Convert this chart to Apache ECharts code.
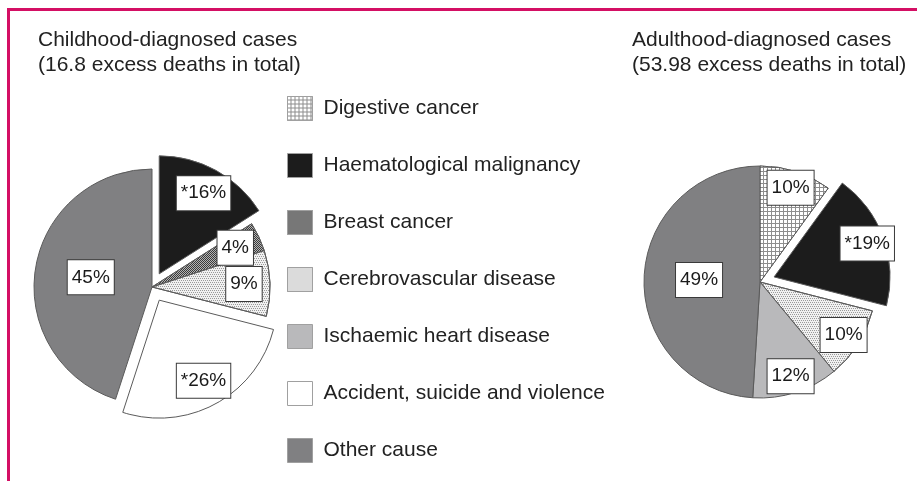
<!DOCTYPE html>
<html lang="en">
<head>
    <meta charset="UTF-8">
    <title>Excess deaths by cause</title>
    <script src="https://cdn.jsdelivr.net/npm/echarts@6/dist/echarts.min.js"></script>
    <style>
        body { margin: 0; background: #fff; }
        #frame { position: absolute; left: 7px; top: 8px; width: 910px; height: 473px;
                 border-left: 3px solid #d40f64; border-top: 3px solid #d40f64; }
        #main { position: absolute; left: 0; top: 0; width: 917px; height: 481px; }
    </style>
</head>
<body>
    <div id="frame"></div>
    <div id="main"></div>
    <script>
        // categories, in the order they run clockwise round both pies
        const categories = [
            'Digestive cancer',
            'Haematological malignancy',
            'Breast cancer',
            'Cerebrovascular disease',
            'Ischaemic heart disease',
            'Accident, suicide and violence',
            'Other cause'
        ]
        // percent of excess deaths (0 = not shown in that pie)
        const childValues = [0, 16, 4, 9, 0, 26, 45]
        const adultValues = [10, 19, 0, 10, 12, 0, 49]
        // significant causes: starred and pulled out
        const childStarred = [false, true, false, false, false, true, false]
        const adultStarred = [false, true, false, false, false, false, false]

        const childTitle = 'Childhood-diagnosed cases\n(16.8 excess deaths in total)'
        const adultTitle = 'Adulthood-diagnosed cases\n(53.98 excess deaths in total)'

        // fill of each cause
        const styles = {
            'Digestive cancer': {
                color: '#8e8e8e',
                decal: { symbol: 'rect', symbolSize: 1, color: '#ffffff', dashArrayX: [3, 1], dashArrayY: [3, 1], rotation: 0 }
            },
            'Haematological malignancy': { color: '#1c1c1c' },
            'Breast cancer': {
                color: '#3a3a3a',
                decal: { symbol: 'rect', symbolSize: 1, color: '#b4b4b4', dashArrayX: [[1, 1], [0, 1, 1, 0]], dashArrayY: [1, 0], rotation: 0 }
            },
            'Cerebrovascular disease': {
                color: '#f1f1f1',
                decal: { symbol: 'rect', symbolSize: 1, color: '#9a9a9a', dashArrayX: [[1, 1], [0, 1, 1, 0]], dashArrayY: [1, 1], rotation: 0 }
            },
            'Ischaemic heart disease': { color: '#b9b9bb' },
            'Accident, suicide and violence': { color: '#ffffff' },
            'Other cause': { color: '#808082' }
        }

        const font = 'Liberation Sans, Arial, sans-serif'

        const boxLabel = {
            position: 'inside',
            formatter: p => (p.data.star ? '*' : '') + p.value + '%',
            fontFamily: font,
            fontSize: 19,
            color: '#1a1a1a',
            backgroundColor: '#ffffff',
            borderColor: '#3a3a3a',
            borderWidth: 1,
            padding: [8, 4, 7, 4]
        }

        // slices (only the big "Other" slice carries its own label)
        function sliceData (values, starred) {
            const out = []
            categories.forEach((name, i) => {
                if (!values[i]) return
                out.push({
                    name,
                    value: values[i],
                    star: starred[i],
                    selected: starred[i],
                    itemStyle: styles[name],
                    label: { show: name === 'Other cause' }
                })
            })
            return out
        }

        // invisible ring that places the smaller labels further out
        function labelData (values, starred) {
            const out = []
            categories.forEach((name, i) => {
                if (!values[i]) return
                out.push({
                    name,
                    value: values[i],
                    star: starred[i],
                    selected: starred[i],
                    label: { show: name !== 'Other cause' }
                })
            })
            return out
        }

        function pie (center, radius, data) {
            return {
                type: 'pie',
                center,
                radius,
                selectedMode: 'multiple',
                selectedOffset: 15,
                avoidLabelOverlap: false,
                label: boxLabel,
                labelLine: { show: false },
                labelLayout: { hideOverlap: false },
                itemStyle: { borderColor: '#5a5a5a', borderWidth: 1 },
                emphasis: { disabled: true },
                data
            }
        }

        function labelRing (center, radius, data) {
            return {
                type: 'pie',
                center,
                radius,
                silent: true,
                selectedMode: 'multiple',
                selectedOffset: 15,
                avoidLabelOverlap: false,
                label: boxLabel,
                labelLine: { show: false },
                labelLayout: { hideOverlap: false },
                itemStyle: { color: 'rgba(0,0,0,0)', borderWidth: 0 },
                emphasis: { disabled: true },
                data
            }
        }

        function init () {
            const myChart = echarts.init(document.getElementById('main'))
            const titleStyle = { fontFamily: font, fontSize: 21, fontWeight: 'normal', color: '#222', lineHeight: 25 }
            const option = {
                animation: false,
                title: [
                    { text: childTitle, left: 38, top: 28, padding: 0, textStyle: titleStyle },
                    { text: adultTitle, left: 632, top: 28, padding: 0, textStyle: titleStyle }
                ],
                legend: {
                    orient: 'vertical',
                    left: 287,
                    top: 96,
                    padding: 0,
                    itemWidth: 25,
                    itemHeight: 24,
                    itemGap: 32,
                    icon: 'rect',
                    selectedMode: false,
                    data: categories,
                    itemStyle: { borderColor: '#a0a0a0', borderWidth: 1 },
                    textStyle: { fontFamily: font, fontSize: 21, color: '#222', padding: [0, 0, 0, 6] }
                },
                series: [
                    pie([152, 287], 118, sliceData(childValues, childStarred)),
                    pie([760, 282], 116, sliceData(adultValues, adultStarred)),
                    labelRing([152, 287], [60, 118], labelData(childValues, childStarred)),
                    labelRing([760, 282], [76, 116], labelData(adultValues, adultStarred))
                ]
            }
            myChart.setOption(option)
        }

        init()
    </script>
</body>
</html>
